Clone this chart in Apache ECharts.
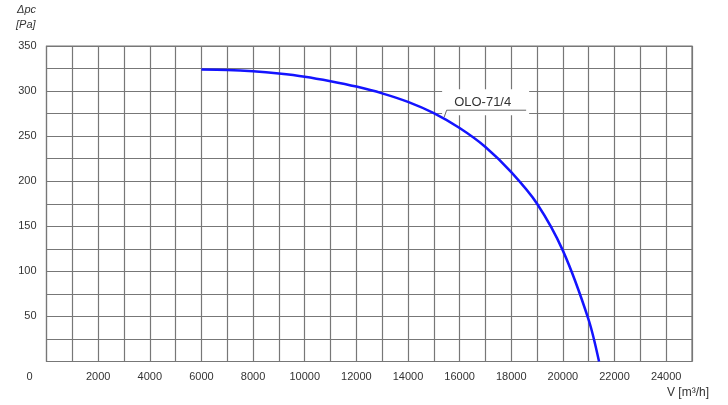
<!DOCTYPE html>
<html>
<head>
<meta charset="utf-8">
<script src="https://cdn.jsdelivr.net/npm/echarts@6/dist/echarts.min.js"></script>
<style>html,body{margin:0;padding:0;background:#fff}#c{width:728px;height:405px}</style>
</head>
<body>
<div id="c"></div>
<script>
var flowValues = [6000, 7000, 8000, 9000, 10000, 11000, 12000, 13000, 14000, 15000, 16000, 17000, 18000, 19000, 20000, 21000, 21400];
var pressureValues = [324, 323.5, 322, 319.5, 316, 311, 305, 297.5, 288, 275.5, 259, 238, 210, 175, 123, 46, 0];
var seriesName = 'OLO-71/4';
var labelAnchor = [15400, 271];
var yAxisTitle = ['Δpc', '[Pa]'];
var xAxisTitle = 'V [m³/h]';

var chart = echarts.init(document.getElementById('c'), null, {renderer: 'canvas'});
var gridColor = '#777';
var font = 'Liberation Sans, Arial, sans-serif';
var data = flowValues.map(function (v, i) { return [v, pressureValues[i]]; });

chart.setOption({
  animation: false,
  grid: {left: 46.5, right: 36, top: 46, bottom: 43.5, show: true, borderColor: gridColor, borderWidth: 1.2},
  xAxis: {
    type: 'value', min: 0, max: 25000, interval: 1000,
    axisLine: {show: false}, axisTick: {show: false},
    splitLine: {show: true, lineStyle: {color: gridColor, width: 1.2}},
    axisLabel: {
      color: '#333', fontFamily: font, fontSize: 11, margin: 10,
      formatter: function (v) { return (v % 2000 === 0 && v > 0 && v < 25000) ? String(v) : ''; }
    }
  },
  yAxis: {
    type: 'value', min: 0, max: 350, interval: 25,
    axisLine: {show: false}, axisTick: {show: false},
    splitLine: {show: true, lineStyle: {color: gridColor, width: 1.2}},
    axisLabel: {
      color: '#333', fontFamily: font, fontSize: 11, margin: 10,
      formatter: function (v) { return (v % 50 === 0 && v > 0) ? String(v) : ''; }
    }
  },
  series: [{
    name: seriesName, type: 'line', data: data, smooth: 0.3, symbol: 'none',
    lineStyle: {color: '#1414ff', width: 2.5}
  }]
});

var a = chart.convertToPixel({gridIndex: 0}, labelAnchor);
var o = chart.convertToPixel({gridIndex: 0}, [0, 0]);
var tr = chart.convertToPixel({gridIndex: 0}, [25000, 350]);
chart.setOption({
  graphic: [
    {type: 'rect', shape: {x: a[0] - 2, y: a[1] - 28, width: 87, height: 26}, style: {fill: '#fff'}, z: 50},
    {type: 'text', x: a[0] + 10, y: a[1] - 15, style: {text: seriesName, font: '13px ' + font, fill: '#333', textVerticalAlign: 'middle'}, z: 51},
    {type: 'polyline', shape: {points: [[a[0], a[1]], [a[0] + 2.5, a[1] - 7], [a[0] + 82, a[1] - 7]]}, style: {stroke: '#666', lineWidth: 1, fill: null}, z: 51},
    {type: 'text', x: o[0] - 20, y: o[1] + 15, style: {text: '0', font: '11px ' + font, fill: '#333', textVerticalAlign: 'middle'}, z: 51},
    {type: 'text', x: 17, y: 10, style: {text: yAxisTitle[0], font: 'italic 11px ' + font, fill: '#333', textVerticalAlign: 'middle'}, z: 51},
    {type: 'text', x: 16, y: 25, style: {text: yAxisTitle[1], font: 'italic 11px ' + font, fill: '#333', textVerticalAlign: 'middle'}, z: 51},
    {type: 'text', x: tr[0] - 25, y: o[1] + 31, style: {text: xAxisTitle, font: '12px ' + font, fill: '#333', textVerticalAlign: 'middle'}, z: 51}
  ]
});
</script>
</body>
</html>
